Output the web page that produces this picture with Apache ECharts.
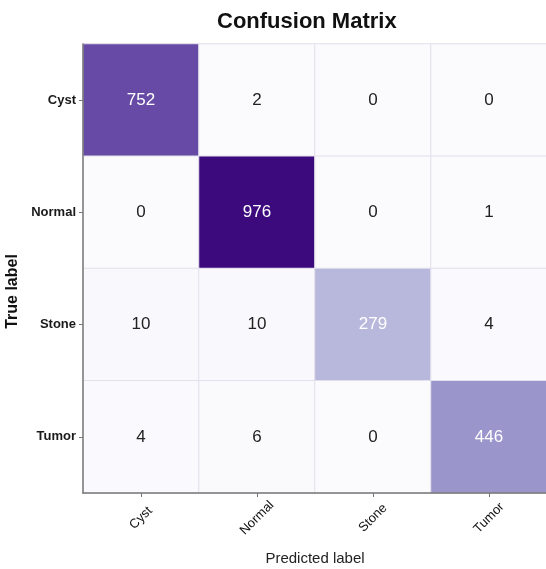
<!DOCTYPE html>
<html>
<head>
<meta charset="utf-8">
<title>Confusion Matrix</title>
<script src="https://cdn.jsdelivr.net/npm/echarts@6/dist/echarts.min.js"></script>
<style>
	html,body{margin:0;padding:0;background:#fff;}
	#matrixChart{width:546px;height:569px;}
</style>
</head>
<body>
<div id="matrixChart"></div>
<script>
// 类别
var labels = ['Cyst', 'Normal', 'Stone', 'Tumor'];
// 每一行 = 真实类别, 每一列 = 预测类别
var rowCyst = [752, 2, 0, 0];
var rowNormal = [0, 976, 0, 1];
var rowStone = [10, 10, 279, 4];
var rowTumor = [4, 6, 0, 446];
var rows = [rowCyst, rowNormal, rowStone, rowTumor];

// Purples 色阶
var purples = ['#fbfafd', '#dcdbed', '#b7b8dc', '#9e9bcf', '#8a80c0', '#7259ac', '#56339a', '#3d0a7e'];

function buildData(){
	var list = [];
	var maxVal = 0;
	rows.forEach(function(row, i){
		row.forEach(function(v, j){
			if(v > maxVal){maxVal = v;}
		});
	});
	rows.forEach(function(row, i){
		row.forEach(function(v, j){
			list.push({
				value: [j, i, v],
				label: {color: v > maxVal * 0.2 ? '#ffffff' : '#222222'}
			});
		});
	});
	return {list: list, max: maxVal};
}

function creatMatrix(){
	var myChart = echarts.init(document.getElementById('matrixChart'));
	var d = buildData();
	var option = {
		backgroundColor: '#ffffff',
		animation: false,
		title: {
			text: 'Confusion Matrix',
			left: 212,
			top: 6,
			textStyle: {
				fontFamily: 'Liberation Sans',
				fontSize: 22,
				fontWeight: 'bold',
				color: '#111'
			}
		},
		grid: {
			left: 83,
			right: -1,
			top: 44,
			bottom: 76,
			containLabel: false,
			outerBoundsMode: 'none'
		},
		xAxis: {
			type: 'category',
			data: labels,
			z: 10,
			name: 'Predicted label',
			nameLocation: 'middle',
			nameGap: 58,
			nameTextStyle: {
				fontFamily: 'Liberation Sans',
				fontSize: 15,
				color: '#222'
			},
			axisLine: {show: true, lineStyle: {color: '#777', width: 1.5}},
			axisTick: {show: true, alignWithLabel: true, length: 4, lineStyle: {color: '#777'}},
			splitLine: {show: false},
			axisLabel: {
				rotate: 45,
				align: 'center',
				verticalAlign: 'middle',
				margin: 25,
				fontFamily: 'Liberation Sans',
				fontSize: 13,
				color: '#111'
			}
		},
		yAxis: {
			type: 'category',
			data: labels,
			inverse: true,
			z: 10,
			name: 'True label',
			nameLocation: 'middle',
			nameGap: 58,
			nameRotate: 90,
			nameTextStyle: {
				fontFamily: 'Liberation Sans',
				fontSize: 16,
				fontWeight: 'bold',
				color: '#111',
				padding: [0, 46, 0, 0]
			},
			axisLine: {show: true, lineStyle: {color: '#777', width: 1.5}},
			axisTick: {show: true, alignWithLabel: true, length: 4, lineStyle: {color: '#777'}},
			splitLine: {show: false},
			axisLabel: {
				margin: 7,
				fontFamily: 'Liberation Sans',
				fontSize: 13,
				fontWeight: 'bold',
				color: '#1a1a1a'
			}
		},
		visualMap: {
			show: false,
			type: 'continuous',
			min: 0,
			max: d.max,
			dimension: 2,
			inRange: {color: purples}
		},
		series: [
			{
				type: 'heatmap',
				data: d.list,
				itemStyle: {borderColor: '#e2e0ea', borderWidth: 1},
				label: {
					show: true,
					fontFamily: 'Liberation Sans',
					fontSize: 17,
					formatter: function(p){return p.value[2];}
				},
				emphasis: {disabled: true}
			}
		]
	};
	myChart.setOption(option);
}
creatMatrix();
</script>
</body>
</html>
